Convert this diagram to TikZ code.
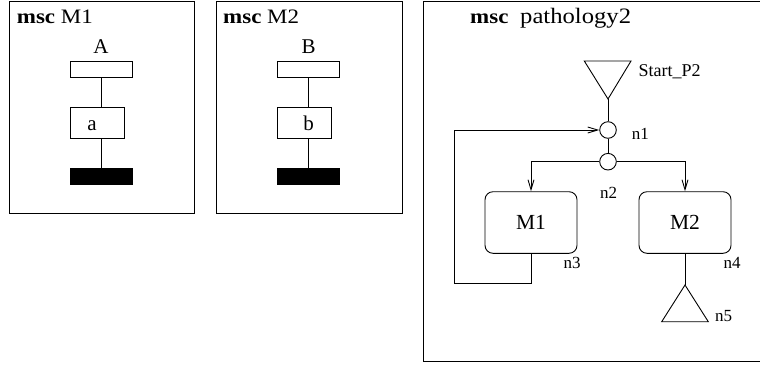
\documentclass[tikz,border=0pt]{standalone}
\usepackage{fontspec}
\setmainfont{Liberation Serif}
\newfontfamily\titlefont[FakeStretch=1.12]{Liberation Serif}
\usetikzlibrary{arrows.meta}

\newcommand\fsz[1]{\fontsize{#1}{#1}\selectfont}

\tikzset{
  thinline/.style={line width=0.9pt},
  msframe/.style={draw, line width=0.9pt, anchor=north west, inner sep=0pt},
  headbox/.style={draw, line width=0.9pt, minimum width=62pt, minimum height=16pt, inner sep=0pt},
  actbox/.style={draw, line width=0.9pt, minimum width=54pt, minimum height=31pt, inner sep=0pt},
  endbox/.style={draw, fill=black, line width=0.9pt, minimum width=62pt, minimum height=16pt, inner sep=0pt},
  conn/.style={draw, circle, line width=0.9pt, minimum size=16.6pt, inner sep=0pt},
  refbox/.style={draw, line width=0.9pt, rounded corners=8pt, minimum width=92pt, minimum height=61.6pt, inner sep=0pt, font=\fsz{21.5}},
  titletext/.style={anchor=base west, inner sep=0pt, font=\titlefont\fsz{20.5}},
  insttext/.style={anchor=base, inner sep=0pt, font=\fsz{21}},
  lbl/.style={anchor=base west, inner sep=0pt, font=\fsz{17}},
  arr/.style={-{Straight Barb[length=10pt,width=6pt]}},
}

\begin{document}
\begin{tikzpicture}[x=1pt, y=-1pt]
\useasboundingbox (0,0) rectangle (760,365);

% ---------- msc M1 ----------
\node[msframe, minimum width=185pt, minimum height=212pt] (fr1) at (9,1) {};
\node[titletext] (t1) at (16.7,23.3) {\textbf{msc} M1};
\node[insttext] (iA) at (101,53) {A};
\node[headbox] (hA) at (101,69) {};
\node[actbox] (actA) at (97,122.5) {};
\node[insttext] (ta) at (92,130) {a};
\node[endbox] (eA) at (101,176) {};
\draw[thinline] (hA.south) -- (hA.south |- actA.north);
\draw[thinline] (hA.south |- actA.south) -- (eA.north);

% ---------- msc M2 ----------
\node[msframe, minimum width=185.7pt, minimum height=212pt] (fr2) at (216,1) {};
\node[titletext] (t2) at (223,23.3) {\textbf{msc} M2};
\node[insttext] (iB) at (308.5,53) {B};
\node[headbox] (hB) at (308.5,69) {};
\node[actbox] (actB) at (304.5,122.5) {};
\node[insttext] (tb) at (308.7,130) {b};
\node[endbox] (eB) at (308.5,176) {};
\draw[thinline] (hB.south) -- (hB.south |- actB.north);
\draw[thinline] (hB.south |- actB.south) -- (eB.north);

% ---------- msc pathology2 ----------
\node[msframe, minimum width=347pt, minimum height=360pt] (fr3) at (422.7,1) {};
\node[titletext] (t3a) at (470,23) {\textbf{msc}};
\node[titletext, font=\titlefont\fsz{22}] (t3b) at (520,23) {pathology2};

% start node
\coordinate (stl) at (584.3,61);
\coordinate (str) at (631,61);
\coordinate (sta) at (608,99);
\draw[thinline, line join=miter] (stl) -- (str) -- (sta) -- cycle;
\node[lbl, font=\fsz{18}] (lstart) at (638.3,76.7) {Start\_P2};

% connection points
\node[conn] (n1) at (608,130) {};
\node[conn] (n2) at (608,161.7) {};
\node[lbl] (ln1) at (631.7,139.3) {n1};
\node[lbl] (ln2) at (600,198.5) {n2};
\draw[thinline] (sta) -- (n1.north);
\draw[thinline] (n1.south) -- (n2.north);

% reference boxes
\node[refbox] (m1) at (531,222.5) {M1};
\node[refbox] (m2) at (685,222.5) {M2};
\node[lbl] (ln3) at (563.3,268.3) {n3};
\node[lbl] (ln4) at (723.3,268.3) {n4};

\draw[thinline, arr] (n2.west) -| (m1.north);
\draw[thinline, arr] (n2.east) -| (m2.north);

% loop back from M1 to n1
\coordinate (lb) at (454.3,283.3);
\draw[thinline, arr] (m1.south) |- (lb) |- (n1.west);

% end node
\coordinate (ea) at (685,285);
\coordinate (el) at (661.7,321.7);
\coordinate (er) at (708.3,321.7);
\draw[thinline] (m2.south) -- (ea);
\draw[thinline, line join=miter] (ea) -- (el) -- (er) -- cycle;
\node[lbl] (ln5) at (715,321.7) {n5};
\end{tikzpicture}
\end{document}
